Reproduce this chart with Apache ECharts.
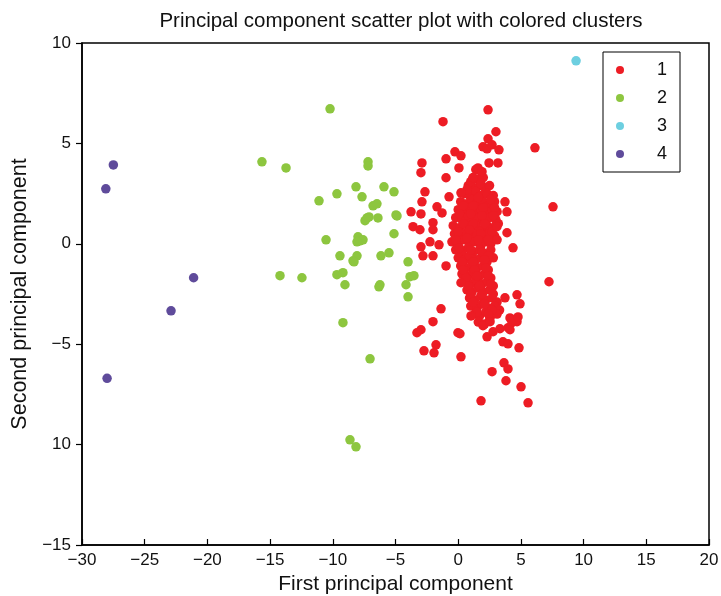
<!DOCTYPE html>
<html>
<head>
<meta charset="utf-8">
<script src="https://cdn.jsdelivr.net/npm/echarts@6/dist/echarts.min.js"></script>
<style>html,body{margin:0;padding:0;background:#fff;}#c{width:721px;height:596px;}</style>
</head>
<body>
<div id="c"></div>
<script>
// ---- data ----
var clusterNames = ['1', '2', '3', '4'];
var xTickValues = [-30, -25, -20, -15, -10, -5, 0, 5, 10, 15, 20];
var xTickLabels = ['\u221230', '\u221225', '\u221220', '\u221215', '\u221210', '\u22125', '0', '5', '10', '15', '20'];
var yTickValues = [-15, -10, -5, 0, 5, 10];
var yTickLabels = ['\u221215', '10', '\u22125', '0', '5', '10'];

var cluster1Core = [
[1.4,3.7],[1.8,3.6],
[1.2,3.3],[1.6,3.2],[2.0,3.3],
[0.8,2.9],[1.2,2.8],[1.7,2.9],[2.1,2.8],[2.5,2.9],
[0.5,2.5],[0.9,2.4],[1.4,2.6],[1.8,2.4],[2.3,2.5],[2.8,2.4],
[0.2,2.1],[0.7,2.0],[1.1,2.2],[1.5,2.0],[2.0,2.1],[2.4,1.9],[2.9,2.1],
[0.0,1.7],[0.5,1.6],[0.9,1.8],[1.3,1.6],[1.8,1.7],[2.2,1.5],[2.7,1.7],[3.1,1.6],
[-0.2,1.3],[0.3,1.2],[0.8,1.4],[1.2,1.2],[1.6,1.3],[2.0,1.1],[2.5,1.3],[3.0,1.2],
[-0.4,0.9],[0.1,0.8],[0.6,1.0],[1.0,0.8],[1.4,0.9],[1.9,0.7],[2.3,0.9],[2.8,0.8],[3.2,1.0],
[-0.3,0.5],[0.2,0.4],[0.7,0.6],[1.1,0.4],[1.5,0.5],[2.0,0.3],[2.4,0.5],[2.9,0.4],
[-0.5,0.1],[0.0,0.0],[0.5,0.2],[0.9,0.0],[1.3,0.1],[1.8,-0.1],[2.2,0.1],[2.6,0.0],[3.1,0.2],
[-0.2,-0.3],[0.3,-0.4],[0.8,-0.2],[1.2,-0.4],[1.7,-0.3],[2.1,-0.5],[2.6,-0.3],
[0.0,-0.7],[0.5,-0.8],[0.9,-0.6],[1.4,-0.8],[1.8,-0.7],[2.3,-0.9],[2.8,-0.7],
[0.2,-1.1],[0.6,-1.2],[1.1,-1.0],[1.5,-1.2],[2.0,-1.1],[2.4,-1.3],
[0.3,-1.5],[0.8,-1.6],[1.2,-1.4],[1.7,-1.6],[2.1,-1.5],[2.6,-1.7],
[0.5,-1.9],[1.0,-2.0],[1.4,-1.8],[1.9,-2.0],[2.3,-1.9],[2.8,-2.1],
[0.7,-2.3],[1.1,-2.4],[1.6,-2.2],[2.0,-2.4],[2.5,-2.3],
[0.9,-2.7],[1.3,-2.8],[1.8,-2.6],[2.2,-2.8],[2.7,-2.7],[3.1,-2.9],
[1.0,-3.1],[1.5,-3.2],[1.9,-3.0],[2.4,-3.2],[2.9,-3.1],[3.3,-3.3],
[1.3,-3.5],[1.7,-3.6],[2.2,-3.4],[2.6,-3.6],[3.1,-3.5],
[1.6,-3.9],[2.1,-4.0],[2.5,-3.8],
[1.0,3.1],[1.8,3.0],[0.7,2.7],[1.6,2.3],[2.6,2.2],[0.4,1.9],[1.2,1.9],[2.0,1.8],[2.9,1.8],
[0.1,1.5],[1.0,1.5],[1.9,1.4],[2.8,1.4],[0.4,1.0],[1.2,1.0],[2.1,1.0],[3.0,0.9],
[0.0,0.6],[0.9,0.7],[1.8,0.5],[2.7,0.6],[-0.2,0.2],[0.7,0.3],[1.6,0.2],[2.4,0.2],
[0.1,-0.2],[1.0,-0.3],[1.9,-0.4],[2.4,-0.6],[0.3,-0.9],[1.2,-0.9],[2.1,-0.8],
[0.4,-1.3],[1.3,-1.3],[2.2,-1.2],[0.6,-1.7],[1.5,-1.6],[2.4,-1.6],[0.8,-2.1],[1.7,-2.1],
[2.6,-2.0],[1.0,-2.5],[1.9,-2.5],[2.8,-2.5],[1.2,-2.9],[2.1,-3.0],[2.7,-3.3],[1.5,-3.4],[2.4,-3.5]
];
var cluster1Outer = [
[2.38,6.67],[-1.21,6.08],[3.01,5.58],[2.38,5.23],[1.98,4.83],[2.30,4.73],[2.70,4.93],[3.25,4.68],
[6.12,4.78],[-0.26,4.58],[0.22,4.38],[-0.97,4.23],[-2.89,4.03],[-2.97,3.54],[2.46,4.03],[3.17,4.03],
[0.06,3.78],[1.58,3.78],[1.90,3.59],[1.18,3.29],[-0.97,3.29],[-2.65,2.59],[-2.89,2.09],[-0.73,2.34],
[0.22,2.54],[-3.76,1.59],[-2.97,1.49],[-1.69,1.84],[-1.29,1.54],[7.56,1.84],[3.73,2.09],[3.89,1.59],
[-3.60,0.85],[-3.05,0.70],[-2.01,1.05],[-2.01,0.70],[3.89,0.55],[3.09,0.85],[-2.97,-0.15],[-2.25,0.10],
[-1.53,-0.05],[4.37,-0.20],[-2.81,-0.60],[-2.01,-0.60],[-0.97,-1.10],[7.24,-1.89],[0.22,-1.94],
[4.69,-2.54],[4.93,-2.99],[-1.37,-3.24],[1.02,-3.59],[3.73,-2.69],[4.13,-3.69],[-2.01,-3.88],
[-2.97,-4.28],[-3.29,-4.43],[-0.02,-4.43],[0.14,-4.48],[-2.73,-5.33],[-1.77,-5.03],[-1.93,-5.43],
[0.22,-5.63],[1.98,-4.08],[2.54,-3.88],[2.30,-4.63],[2.78,-4.38],[3.33,-4.23],[3.97,-4.18],
[4.29,-3.93],[4.69,-3.88],[3.57,-4.88],[3.97,-4.98],[4.85,-5.18],[3.65,-5.93],[3.97,-6.23],
[2.70,-6.37],[3.81,-6.82],[5.01,-7.12],[1.82,-7.82],[5.57,-7.92],[4.13,-4.28],[4.37,-3.78],[4.77,-3.64]
];
var cluster2 = [
[-10.22,6.72],[-15.65,4.08],[-13.73,3.78],[-7.19,4.08],[-7.19,3.88],[-8.15,2.84],[-5.92,2.84],
[-5.12,2.59],[-7.67,2.34],[-9.67,2.49],[-11.10,2.14],[-6.79,1.89],[-6.48,1.99],[-7.27,1.29],
[-7.43,1.15],[-7.11,1.34],[-6.40,1.29],[-4.96,1.44],[-4.88,1.39],[-10.54,0.20],[-7.99,0.35],
[-7.83,0.15],[-7.59,0.20],[-8.07,0.10],[-5.12,0.50],[-9.43,-0.60],[-8.07,-0.60],[-8.39,-0.85],
[-8.31,-0.90],[-6.16,-0.60],[-5.52,-0.45],[-4.00,-0.90],[-14.21,-1.59],[-12.46,-1.69],
[-9.67,-1.54],[-9.19,-1.44],[-9.03,-2.04],[-6.32,-2.14],[-6.24,-2.04],[-4.16,-2.04],
[-3.84,-1.64],[-3.53,-1.59],[-4.00,-2.64],[-9.19,-3.93],[-7.03,-5.73],[-8.63,-9.76],[-8.15,-10.11]
];
var cluster3 = [[9.4,9.11]];
var cluster4 = [[-27.5,3.93],[-28.1,2.74],[-21.1,-1.69],[-22.9,-3.34],[-28.0,-6.7]];

var colors = ['#ed1c24', '#8dc63f', '#6dcfe0', '#5f4b9b'];

function lookup(vals, labels, v) {
  for (var i = 0; i < vals.length; i++) if (Math.abs(vals[i] - v) < 1e-9) return labels[i];
  return '';
}
var FONT = 'Liberation Sans, Arial, sans-serif';

var chart = echarts.init(document.getElementById('c'), null, {renderer: 'canvas'});
var seriesData = [cluster1Core.concat(cluster1Outer), cluster2, cluster3, cluster4];
chart.setOption({
  animation: false,
  backgroundColor: '#fff',
  title: {
    text: 'Principal component scatter plot with colored clusters',
    left: 396, top: 6, textAlign: 'center',
    textStyle: {fontFamily: FONT, fontSize: 20.5, fontWeight: 'normal', color: '#111'}
  },
  grid: {left: 82, right: 12, top: 43, bottom: 51, show: true, borderColor: '#000', borderWidth: 1.5,
    backgroundColor: 'transparent', containLabel: false, outerBoundsMode: 'none'},
  legend: {
    orient: 'vertical', left: 603, top: 52,
    data: clusterNames,
    backgroundColor: '#fff',
    borderColor: '#000', borderWidth: 1, borderRadius: 0,
    padding: [9, 13, 9, 13],
    itemWidth: 8, itemHeight: 8, itemGap: 10,
    icon: 'circle',
    textStyle: {fontFamily: FONT, fontSize: 18, lineHeight: 17, color: '#111', padding: [0, 0, 0, 28]}
  },
  xAxis: {
    type: 'value', min: -30, max: 20, interval: 5,
    name: 'First principal component', nameLocation: 'middle', nameGap: 24,
    nameTextStyle: {fontFamily: FONT, fontSize: 21, color: '#111'},
    axisLine: {show: true, onZero: false, lineStyle: {color: '#000', width: 1.5}},
    axisTick: {show: true, inside: true, length: 6, lineStyle: {color: '#000', width: 1.2}},
    axisLabel: {fontFamily: FONT, fontSize: 17, color: '#111', margin: 7,
      formatter: function (v) { return lookup(xTickValues, xTickLabels, v); }},
    splitLine: {show: false}
  },
  yAxis: {
    type: 'value', min: -15, max: 10, interval: 5,
    name: 'Second principal component', nameLocation: 'middle', nameGap: 47,
    nameTextStyle: {fontFamily: FONT, fontSize: 21.5, color: '#111'},
    axisLine: {show: true, onZero: false, lineStyle: {color: '#000', width: 1.5}},
    axisTick: {show: true, inside: false, length: 6, lineStyle: {color: '#000', width: 1.2}},
    axisLabel: {fontFamily: FONT, fontSize: 17, color: '#111', margin: 11,
      formatter: function (v) { return lookup(yTickValues, yTickLabels, v); }},
    splitLine: {show: false}
  },
  series: clusterNames.map(function (n, i) {
    return {
      name: n, type: 'scatter', data: seriesData[i],
      symbol: 'circle', symbolSize: 9.5,
      itemStyle: {color: colors[i], opacity: 1},
      emphasis: {disabled: true}
    };
  })
});
</script>
</body>
</html>
